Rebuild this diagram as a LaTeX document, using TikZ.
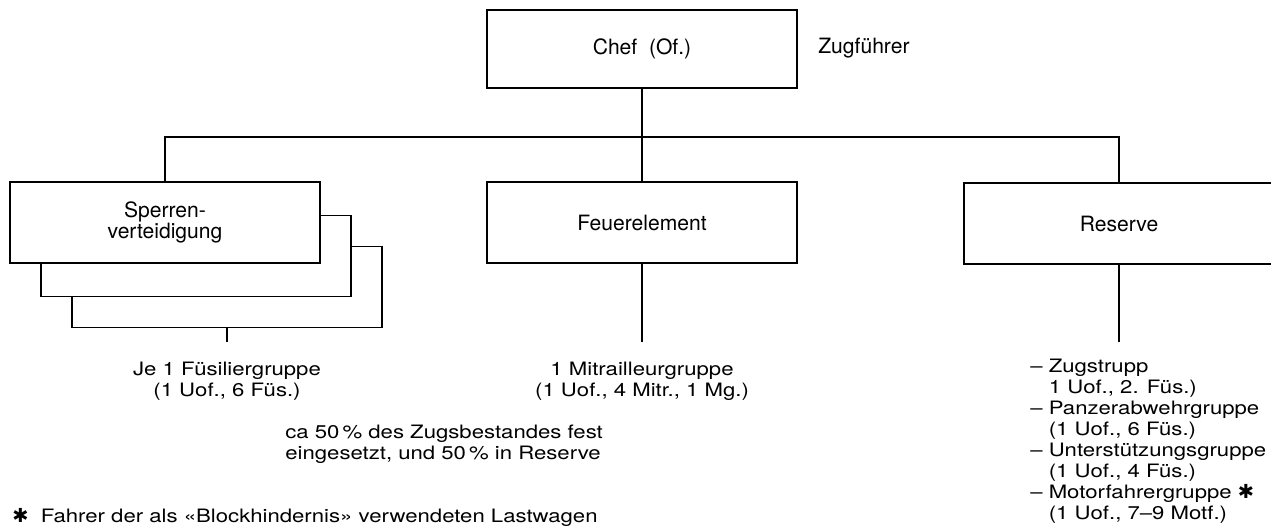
\documentclass[tikz,border=0pt]{standalone}
\usepackage{fontspec}
\setmainfont{TeX Gyre Heros}
\newfontfamily\widefont[FakeStretch=1.2]{TeX Gyre Heros}
\newfontfamily\symfont{DejaVu Sans}
\newcommand{\stern}{{\symfont\fontsize{11}{10}\selectfont ✱}}
\tikzset{
  unit/.style={draw, fill=white, line width=0.9pt, minimum width=6.2cm,
    minimum height=1.62cm, inner sep=0pt, align=center,
    font=\fontsize{12}{11}\selectfont},
  note/.style={font=\widefont\fontsize{10.5}{11.9}\selectfont, inner sep=0pt},
  link/.style={line width=0.9pt}
}
\begin{document}
\begin{tikzpicture}[x=0.02cm,y=-0.02cm]
  \path[use as bounding box, clip] (0,0) rectangle (1271,525);
  % Kopf
  \node[unit, minimum height=1.56cm] (chef) at (642,49) {Chef\ \ (Of.)};
  \node[font=\fontsize{12}{14}\selectfont, inner sep=0pt, anchor=west] (zug) at (818,48) {Zugführer};
  % Elemente
  \node[unit] (sperrenC) at (227,287) {};
  \node[unit] (sperrenB) at (196,256) {};
  \node[unit] (sperren) at (165,222.5) {Sperren-\\verteidigung};
  \node[unit] (feuer) at (642,222.5) {Feuerelement};
  \node[unit] (reserve) at (1119,223.5) {Reserve};
  % Verbindungen
  \coordinate (bus) at (642,137);
  \draw[link] (chef.south) -- (feuer.north);
  \draw[link] (sperren.north) |- (bus) -| (reserve.north);
  \coordinate (fuesEnd) at (227,342);
  \coordinate (feuerEnd) at (642,342);
  \coordinate (reserveEnd) at (1119,342);
  \draw[link] (sperrenC.south) -- (fuesEnd);
  \draw[link] (feuer.south) -- (feuerEnd);
  \draw[link] (reserve.south) -- (reserveEnd);
  % Texte
  \node[note, align=center] (fues) at (227,381) {Je 1 Füsiliergruppe\\(1 Uof., 6 Füs.)};
  \node[note, align=center] (mitr) at (642,381) {1 Mitrailleurgruppe\\(1 Uof., 4 Mitr., 1 Mg.)};
  \node[note, align=left, anchor=west] (anteil) at (285,444) {ca 50\,\% des Zugsbestandes fest\\eingesetzt, und 50\,\% in Reserve};
  \node[note, align=left, anchor=north west] (reslist) at (1030,359) {%
    – Zugstrupp\\
    \phantom{– }1 Uof., 2. Füs.)\\
    – Panzerabwehrgruppe\\
    \phantom{– }(1 Uof., 6 Füs.)\\
    – Unterstützungsgruppe\\
    \phantom{– }(1 Uof., 4 Füs.)\\
    – Motorfahrergruppe \stern\\
    \phantom{– }(1 Uof., 7–9 Motf.)};
  \node[note, anchor=west] (fussnote) at (12,517) {\stern\ \ Fahrer der als «Blockhindernis» verwendeten Lastwagen};
\end{tikzpicture}
\end{document}
